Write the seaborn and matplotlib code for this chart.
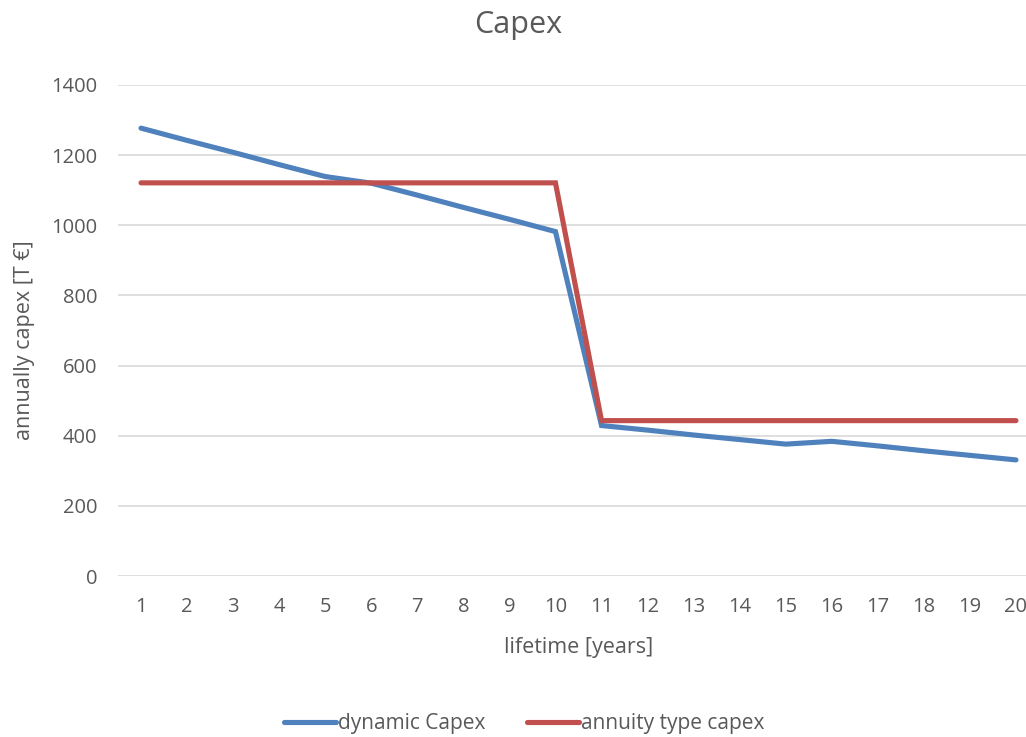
import matplotlib
matplotlib.use("Agg")
import matplotlib.pyplot as plt
from matplotlib.lines import Line2D
import seaborn as sns
import pandas as pd

years = list(range(1, 21))
dynamic_capex = [1277, 1242, 1208, 1173, 1139, 1120, 1086, 1051, 1017, 982,
                 429, 416, 402, 389, 376, 384, 371, 357, 344, 331]
annuity_capex = [1121] * 10 + [443] * 10
series_names = ["dynamic Capex", "annuity type capex"]
series_colors = ["#4F81BD", "#C0504D"]
y_ticks = [0, 200, 400, 600, 800, 1000, 1200, 1400]

df = pd.DataFrame({
    "year": years * 2,
    "value": dynamic_capex + annuity_capex,
    "series": [series_names[0]] * len(years) + [series_names[1]] * len(years),
})

sns.set_theme(style="white")
plt.rcParams["font.family"] = ["Open Sans", "DejaVu Sans"]
text_color = "#595959"

fig = plt.figure(figsize=(10.26, 7.37), dpi=100)
ax = fig.add_axes([118 / 1026, 1 - 576 / 737, (1039 - 118) / 1026, (576 - 85) / 737])

sns.lineplot(data=df, x="year", y="value", hue="series", hue_order=series_names,
             palette=series_colors, linewidth=3.7, ax=ax,
             solid_capstyle="round", solid_joinstyle="miter", legend=False)

ax.set_xlim(0.5, 20.5)
ax.set_ylim(0, 1400)
ax.set_xticks(years)
ax.set_yticks(y_ticks)
ax.tick_params(axis="both", length=0, labelsize=14.5, labelcolor=text_color)
ax.tick_params(axis="x", pad=15)
ax.tick_params(axis="y", pad=15)
ax.grid(axis="y", color="#D9D9D9", linewidth=1.2)
ax.set_axisbelow(True)
for s in ax.spines.values():
    s.set_visible(False)

ax.set_xlabel("lifetime [years]", fontsize=15.5, color=text_color)
ax.set_ylabel("annually capex [T €]", fontsize=15.5, color=text_color)
ax.xaxis.label.set_va("center")
ax.yaxis.label.set_va("center")
ax.xaxis.set_label_coords((579 - 118) / 921, (576 - 648) / 491)
ax.yaxis.set_label_coords((25 - 118) / 921, (576 - 340) / 491)

fig.text(518 / 1026, 1 - 25 / 737, "Capex", ha="center", va="center",
         fontsize=22, color=text_color)

handles = [Line2D([], [], color=c, linewidth=3.7, solid_capstyle="round")
           for c in series_colors]
fig.legend(handles, series_names, loc="center", bbox_to_anchor=(524 / 1026, 1 - 724 / 737),
           ncol=2, frameon=False, fontsize=15, labelcolor=text_color,
           handlelength=2.5, handletextpad=0.1, columnspacing=2.0)

fig.savefig("out.png", dpi=100)
